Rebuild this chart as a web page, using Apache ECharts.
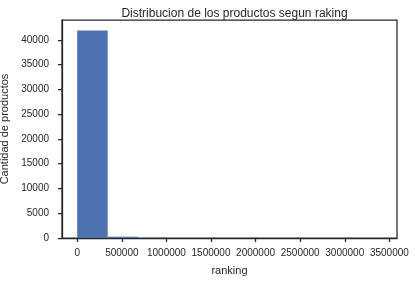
<!DOCTYPE html>
<html>
<head>
<meta charset="utf-8">
<script src="https://cdn.jsdelivr.net/npm/echarts@6/dist/echarts.min.js"></script>
<style>html,body{margin:0;padding:0;background:#fff;}#c{width:415px;height:281px;}</style>
</head>
<body>
<div id="c"></div>
<script>
// Histogram of rankings: 10 bins from 0 to ~3415000
const binEdges = [0, 341500, 683000, 1024500, 1366000, 1707500, 2049000, 2390500, 2732000, 3073500, 3415000];
const counts = [41900, 260, 12, 5, 3, 2, 1, 1, 1, 1];
const xTicks = [0, 500000, 1000000, 1500000, 2000000, 2500000, 3000000, 3500000];
const yTicks = [0, 5000, 10000, 15000, 20000, 25000, 30000, 35000, 40000];

const dataMin = binEdges[0], dataMax = binEdges[binEdges.length - 1];
const xPad = (dataMax - dataMin) * 0.05;
const yMax = Math.max(...counts) * 1.05;
const barData = counts.map((c, i) => [binEdges[i], binEdges[i + 1], c]);
const txt = '#262626';
const font = 'Liberation Sans, Arial, sans-serif';

const chart = echarts.init(document.getElementById('c'), null, {renderer: 'canvas'});
chart.setOption({
  animation: false,
  backgroundColor: '#fff',
  title: {
    text: 'Distribucion de los productos segun raking',
    left: 229.5, top: 3, textAlign: 'center',
    textStyle: {color: txt, fontSize: 12, fontWeight: 'normal', fontFamily: font}
  },
  grid: {left: 62, right: 18, top: 20, bottom: 43, show: true, borderColor: txt, borderWidth: 1.25,
    backgroundColor: 'transparent', containLabel: false, outerBoundsMode: 'none'},
  xAxis: {
    type: 'value', min: dataMin - xPad, max: dataMax + xPad,
    name: 'ranking', nameLocation: 'middle', nameGap: 27,
    nameTextStyle: {color: txt, fontSize: 11, fontFamily: font},
    axisLine: {show: true, onZero: false, lineStyle: {color: txt, width: 1.25}},
    axisTick: {show: true, inside: false, length: 4, customValues: xTicks, lineStyle: {color: txt, width: 1.25}},
    axisLabel: {color: txt, fontSize: 10, fontFamily: font, margin: 10, customValues: xTicks,
      formatter: v => String(Math.round(v))},
    splitLine: {show: false}
  },
  yAxis: {
    type: 'value', min: 0, max: yMax,
    name: 'Cantidad de productos', nameLocation: 'middle', nameGap: 38,
    nameTextStyle: {color: txt, fontSize: 11, fontFamily: font},
    axisLine: {show: true, onZero: false, lineStyle: {color: txt, width: 1.25}},
    axisTick: {show: true, inside: false, length: 4, customValues: yTicks, lineStyle: {color: txt, width: 1.25}},
    axisLabel: {color: txt, fontSize: 10, fontFamily: font, margin: 13, customValues: yTicks,
      formatter: v => String(Math.round(v))},
    splitLine: {show: false}
  },
  series: [{
    type: 'custom',
    data: barData,
    encode: {x: [0, 1], y: 2},
    renderItem: function (params, api) {
      const p0 = api.coord([api.value(0), 0]);
      const p1 = api.coord([api.value(1), api.value(2)]);
      return {
        type: 'rect',
        shape: {x: p0[0], y: p1[1], width: p1[0] - p0[0], height: p0[1] - p1[1]},
        style: {fill: '#4C72B0'}
      };
    }
  }]
});
</script>
</body>
</html>
